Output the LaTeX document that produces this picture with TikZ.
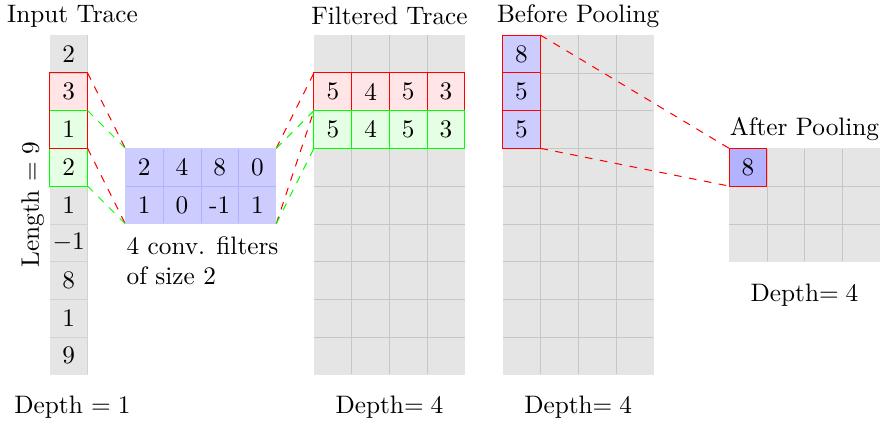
\documentclass[tikz,border=0pt]{standalone}
\usepackage{tikz}
\usetikzlibrary{positioning}
\usetikzlibrary{fit}

\begin{document}
\begin{tikzpicture}[x=0.525cm,y=0.525cm,
	cell/.style={minimum size=0.525cm, inner sep=0pt, outer sep=0pt},
	win/.style={inner sep=0pt, outer sep=0pt},
	inline/.style={gray!35, very thin, step=1},
	gridline/.style={gray!45, very thin, step=1},
	link/.style={dashed}]
			%\draw[help lines] (0,0) grid (22,-10);
			\useasboundingbox (-1.32,-10.26) rectangle (22,0.93);
			
			% backgrounds
			\fill[gray!20] (0,0) rectangle (1,-9);
			\fill[red!10] (0,-1) rectangle (1,-2);
			\fill[green!10] (0,-2) rectangle (1,-4);
			\draw[inline] (0.01,-8.99) grid (0.99,-0.01);
			
			\fill[blue!20] (2,-3) rectangle (6,-5);
			\draw[blue!30, very thin, step=1] (2.01,-4.99) grid (5.99,-3.01);
			
			\fill[gray!20] (7,0) rectangle (11,-9);
			\draw[gridline] (7.01,-8.99) grid (10.99,-0.01);
			
			\fill[gray!20] (12,0) rectangle (16,-9);
			\draw[gridline] (12.01,-8.99) grid (15.99,-0.01);
			
			\fill[gray!20] (18,-3) rectangle (22,-6);
			\draw[gridline] (18.01,-5.99) grid (21.99,-3.01);
			
			% input trace
			\foreach \v [count=\i] in {2,3,1,2,1,$-1$,8,1,9}
				\node[cell] (in-\i) at (0.5,0.5-\i) {\v};
			
			\node[win, fit=(in-3)(in-4), draw=green] (win2) {};
			\node[win, fit=(in-2)(in-3), draw=red] (win1) {};
			
			% filters
			\foreach \v [count=\i] in {2,4,8,0}
				\node[cell] (f-1-\i) at (1.5+\i,-3.5) {\v};
			\foreach \v [count=\i] in {1,0,-1,1}
				\node[cell] (f-2-\i) at (1.5+\i,-4.5) {\v};
			\node[win, fit=(f-1-1)(f-2-4)] (filter) {};
			
			% filtered trace
			\foreach \v [count=\i] in {5,4,5,3}
			{
				\node[cell, fill=red!10, draw=red] (r-\i) at (6.5+\i,-1.5) {\v};
				\node[cell, fill=green!10, draw=green] (g-\i) at (6.5+\i,-2.5) {\v};
			}
			\node[win, fit=(r-1)(r-4)] (row1) {};
			\node[win, fit=(g-1)(g-4)] (row2) {};
			
			% pooling
			\foreach \v [count=\i] in {8,5,5}
				\node[cell, fill=blue!20, draw=red] (p-\i) at (12.5,0.5-\i) {\v};
			\node[win, fit=(p-1)(p-3)] (pool) {};
			\node[cell, fill=blue!30, draw=red] (maxv) at (18.5,-3.5) {8};
			
			% dashed links
			\draw[link, red] (win1.north east) -- (filter.north west);
			\draw[link, red] (win1.south east) -- (filter.south west);
			\draw[link, green] (win2.north east) -- (filter.north west);
			\draw[link, green] (win2.south east) -- (filter.south west);
			
			\draw[link, red] (filter.north east) -- (row1.north west);
			\draw[link, red] (filter.south east) -- (row1.south west);
			\draw[link, green] (filter.north east) -- (row2.north west);
			\draw[link, green] (filter.south east) -- (row2.south west);
			
			\draw[link, red] (pool.north east) -- (maxv.north west);
			\draw[link, red] (pool.south east) -- (maxv.south west);
			
			% labels
			\node (t-in) at (0.6,0.5) {Input Trace};
			\node (t-filt) at (9,0.5) {Filtered Trace};
			\node (t-before) at (14,0.5) {Before Pooling};
			\node (t-after) at (20,-2.49) {After Pooling};
			
			\node (d-in) at (0.6,-9.87) {Depth $=1$};
			\node (d-filt) at (9,-9.87) {Depth$=4$};
			\node (d-before) at (14,-9.87) {Depth$=4$};
			\node (d-after) at (20,-6.9) {Depth$=4$};
			
			\node[rotate=90] (len) at (-0.45,-4.5) {Length $=9$};
			\node[anchor=west, align=left] (fcap) at (1.8,-5.98) {4 conv. filters\\of size 2};
			
\end{tikzpicture}
\end{document}
